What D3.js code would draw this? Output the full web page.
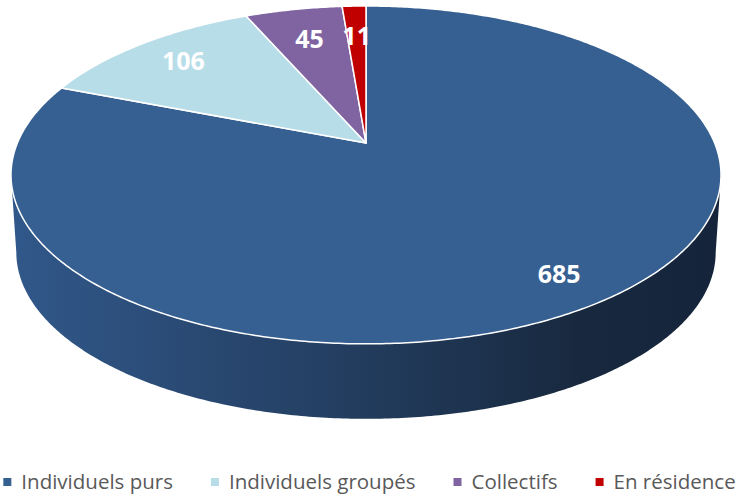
<!DOCTYPE html>
<html>
<head>
<meta charset="utf-8">
<script src="https://cdn.jsdelivr.net/npm/d3@7"></script>
<style>
  html, body { margin: 0; padding: 0; background: #fff; }
  svg { display: block; }
</style>
</head>
<body>
<svg id="chart" width="739" height="495"></svg>
<script>
// Logements par type
const categories = ["Individuels purs", "Individuels groupés", "Collectifs", "En résidence"];
const values = [685, 106, 45, 11];
const colors = ["#376092", "#b7dde8", "#8064a2", "#c00000"];

const W = 739, H = 495;
const svg = d3.select("#chart");

// Perspective disc: circle point (u, v) in [-1,1], v = -1 at the back.
const cx = 366, cy = 143;      // projected centre of the top face
const A = 348.6, B = 162.9;    // horizontal / depth radii
const k = 0.189;               // perspective strength
const depth = 78;              // thickness of the disc
const bottomScale = 0.985;

function project(theta, f, level) {
  const u = f * Math.sin(theta), v = -f * Math.cos(theta);
  const w = 1 - k * v;
  const s = level === "bottom" ? bottomScale : 1;
  const oy = level === "bottom" ? depth : 0;
  return [cx + s * A * u / w, cy + oy + s * B * v / w];
}

function arcPoints(a0, a1, level) {
  const n = Math.max(2, Math.ceil(Math.abs(a1 - a0) / 0.01));
  return d3.range(n + 1).map(i => project(a0 + (a1 - a0) * i / n, 1, level));
}

const pie = d3.pie().sort(null).value(d => d.value).startAngle(0).endAngle(2 * Math.PI);
const data = categories.map((c, i) => ({ name: c, value: values[i], color: colors[i] }));
const arcs = pie(data);
const total = d3.sum(values);

// Side wall gradient
const defs = svg.append("defs");
const grad = defs.append("linearGradient").attr("id", "sideGrad")
  .attr("x1", "0%").attr("x2", "100%").attr("y1", "0%").attr("y2", "0%");
grad.append("stop").attr("offset", "0%").attr("stop-color", "#31588a");
grad.append("stop").attr("offset", "45%").attr("stop-color", "#243f62");
grad.append("stop").attr("offset", "80%").attr("stop-color", "#18293f");
grad.append("stop").attr("offset", "100%").attr("stop-color", "#15243a");

// Visible front wall, between the left and right silhouettes
const thetaR = Math.PI - Math.acos(k);       // right silhouette
const thetaL = Math.PI + Math.acos(k);       // left silhouette
const line = d3.line();
const sidePts = arcPoints(thetaR, thetaL, "top").concat(arcPoints(thetaL, thetaR, "bottom"));
svg.append("path")
  .attr("d", line(sidePts) + "Z")
  .attr("fill", "url(#sideGrad)");

// Top face slices
svg.append("g").selectAll("path")
  .data(arcs)
  .join("path")
  .attr("d", d => line([project(0, 0, "top")].concat(arcPoints(d.startAngle, d.endAngle, "top"))) + "Z")
  .attr("fill", d => d.data.color)
  .attr("stroke", "#ffffff")
  .attr("stroke-width", 1.5)
  .attr("stroke-linejoin", "round");

// Value labels
svg.append("g").selectAll("text")
  .data(arcs)
  .join("text")
  .attr("transform", d => {
    const share = d.data.value / total;
    const f = share > 0.5 ? 0.85 : share > 0.1 ? 0.8 : 0.75;
    const p = project((d.startAngle + d.endAngle) / 2, f, "top");
    return `translate(${p[0]},${p[1]})`;
  })
  .attr("text-anchor", "middle")
  .attr("dy", "0.35em")
  .attr("fill", "#ffffff")
  .attr("font-family", "'Open Sans', sans-serif")
  .attr("font-weight", "bold")
  .attr("font-size", 25)
  .text(d => d.data.value);

// Legend
const legend = svg.append("g").attr("font-family", "'Open Sans', sans-serif")
  .attr("font-size", 20.5).attr("fill", "#595959");
const items = legend.selectAll("g").data(data).join("g");
items.append("rect").attr("width", 8).attr("height", 8).attr("y", -4)
  .attr("fill", d => d.color);
items.append("text").attr("x", 18).attr("dy", "0.35em").text(d => d.name);
const gap = 38;
const widths = items.nodes().map(n => n.getBBox().width);
const totalW = d3.sum(widths) + gap * (widths.length - 1);
let x = (W - totalW) / 2;
items.each(function (d, i) {
  d3.select(this).attr("transform", `translate(${x},482)`);
  x += widths[i] + gap;
});
</script>
</body>
</html>
